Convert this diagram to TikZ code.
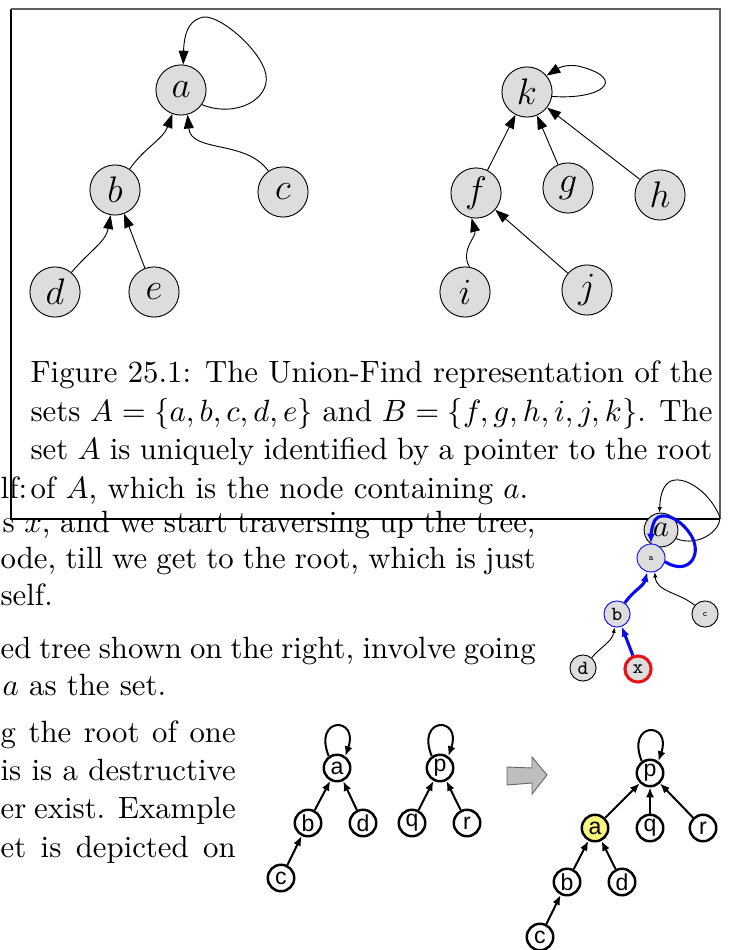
\documentclass[tikz,border=0pt]{standalone}
\usepackage{amsmath}
\usepackage{fontspec}
\usepackage{tikz}
\usetikzlibrary{arrows.meta, positioning}
\newfontfamily\helv{Liberation Sans}
\definecolor{nodegray}{RGB}{221,221,221}
\definecolor{hlyellow}{RGB}{250,245,125}
\definecolor{pathblue}{RGB}{10,10,240}
\definecolor{xred}{RGB}{230,20,20}
\definecolor{framegray}{RGB}{95,95,95}
\definecolor{shiftgray}{RGB}{190,190,190}

\begin{document}
\begin{tikzpicture}[
    x=0.325pt, y=-0.325pt,
    vtx/.style={circle, draw, fill=nodegray, line width=0.3pt, minimum size=16.3pt,
                inner sep=0pt, font=\fontsize{13}{15}\selectfont},
    ptr/.style={-{Triangle[length=4.5pt,width=3.2pt]}, line width=0.3pt},
    mini/.style={circle, draw, fill=nodegray, line width=0.3pt, minimum size=8.5pt,
                 inner sep=0pt, font=\ttfamily\fontsize{6.5}{7}\selectfont},
    miniptr/.style={-{Latex[length=1.8pt,width=1.4pt]}, line width=0.3pt},
    bluptr/.style={-{Latex[length=3.2pt,width=2.6pt]}, line width=1pt, pathblue},
    uf/.style={circle, draw, thick, fill=white, minimum size=8.6pt, inner sep=0pt,
               font=\helv\fontsize{7.5}{8}\selectfont},
    ufptr/.style={-{Latex[length=3.2pt,width=2.6pt]}, line width=0.65pt},
    txt/.style={anchor=base west, inner sep=0pt}
  ]
    \useasboundingbox (0,0) rectangle (729,950);

    % figure box
    \draw[line width=0.35pt] (11,9) -- (11,519) -- (720,519);
    \draw[framegray, line width=0.6pt] (11,9) -- (720,9) -- (720,519);

    % set A
    \node[vtx] (a) at (181,90)  {$a$};
    \node[vtx] (b) at (115,190) {$b$};
    \node[vtx] (c) at (283,192) {$c$};
    \node[vtx] (d) at (55,292)  {$d$};
    \node[vtx] (e) at (154,292) {$e$};

    \draw[ptr] (b) to[out=55, in=-110] (a);
    \draw[ptr] (c) to[out=125, in=-85] (a.-75);
    \draw[ptr] (d) to[out=50, in=-100] (b);
    \draw[ptr] (e) -- (b);
    \draw[ptr] (a.-35) .. controls (235,118) and (270,100) .. (266,75)
                .. controls (262,50) and (215,10) .. (200,18)
                .. controls (188,22) and (184,35) .. (a.85);

    % set B
    \node[vtx] (k) at (527,92)  {$k$};
    \node[vtx] (f) at (476,193) {$f$};
    \node[vtx] (g) at (568,188) {$g$};
    \node[vtx] (h) at (660,195) {$h$};
    \node[vtx] (i) at (465,292) {$i$};
    \node[vtx] (j) at (587,290) {$j$};

    \draw[ptr] (f) -- (k);
    \draw[ptr] (g) -- (k);
    \draw[ptr] (h) -- (k);
    \draw[ptr] (i.80) to[out=120, in=-75] (f.-100);
    \draw[ptr] (j) -- (f);
    \draw[ptr] (k.-10) .. controls (600,100) and (628,80) .. (582,67)
                .. controls (572,64) and (562,66) .. (k.40);

    % caption
    \node[txt] (cap1) at (30,383) {\makebox[221.6pt][s]{Figure 25.1: The Union-Find representation of the}};
    \node[txt] (cap2) at (30,422) {\makebox[221.6pt][s]{sets $A=\{a,b,c,d,e\}$ and $B=\{f,g,h,i,j,k\}$. The}};
    \node[txt] (cap3) at (30,460) {\makebox[221.6pt][s]{set $A$ is uniquely identified by a pointer to the root}};
    \node[txt] (cap4) at (30,498) {of $A$, which is the node containing $a$.};

    % running text
    \node[txt] (t0) at (0,498) {lf:};
    \node[txt] (t1) at (2,532) {\makebox[173.2pt][s]{s $x$, and we start traversing up the tree,}};
    \node[txt] (t2) at (0,568) {\makebox[173.9pt][s]{ode, till we get to the root, which is just}};
    \node[txt] (t3) at (0,605) {self.};
    \node[txt] (t4) at (0,658) {\makebox[173.9pt][s]{ed tree shown on the right, involve going}};
    \node[txt] (t5) at (2,695) {$a$ as the set.};
    \node[txt] (t6) at (0,742) {\makebox[76.4pt][s]{g the root of one}};
    \node[txt] (t7) at (0,780) {\makebox[76.4pt][s]{is is a destructive}};
    \node[txt] (t8) at (0,818) {\makebox[76.4pt][s]{er exist. Example}};
    \node[txt] (t9) at (0,857) {\makebox[76.4pt][s]{et is depicted on}};

    % find(x)
    \node[mini, minimum size=11pt, font=\fontsize{10}{12}\selectfont] (fa) at (661,530) {$a$};
    \node[mini, draw=pathblue, minimum size=9.1pt, font=\ttfamily\fontsize{3}{3.5}\selectfont] (fa2) at (651,558) {a};
    \node[mini, draw=pathblue] (fb) at (617,614) {b};
    \node[mini, font=\ttfamily\fontsize{3}{3.5}\selectfont] (fc) at (705,614) {c};
    \node[mini] (fd) at (583,668) {d};
    \node[mini, draw=xred, line width=1pt] (fx) at (638,669) {x};

    \draw[miniptr] (fa.-30) .. controls (700,548) and (724,528) .. (719,515)
                .. controls (708,490) and (682,474) .. (669,482)
                .. controls (661,488) and (660,500) .. (fa.95);
    \draw[bluptr] (fa2.-15) .. controls (688,576) and (702,556) .. (692,537)
                .. controls (682,519) and (662,510) .. (655,520)
                .. controls (651,528) and (651,536) .. (fa2.north);
    \draw[bluptr] (fb) to[out=55, in=-105] (fa2);
    \draw[bluptr] (fx) -- (fb);
    \draw[miniptr] (fd) to[out=50, in=-100] (fb);
    \draw[miniptr] (fc) to[out=140, in=-85] (fa2.-75);

    % union: before
    \node[uf] (la) at (337,768) {a};
    \node[uf] (lb) at (308,823) {b};
    \node[uf] (ld) at (363,823) {d};
    \node[uf] (lc) at (281,878) {c};
    \node[uf] (lp) at (440,768) {p};
    \node[uf] (lq) at (412,823) {q};
    \node[uf] (lr) at (467,823) {r};

    \draw[ufptr] (la.125) .. controls +(-16,-40) and +(14,-40) .. (la.55);
    \draw[ufptr] (lp.125) .. controls +(-16,-40) and +(14,-40) .. (lp.55);
    \draw[ufptr] (lb) -- (la);
    \draw[ufptr] (ld) -- (la);
    \draw[ufptr] (lc) -- (lb);
    \draw[ufptr] (lq) -- (lp);
    \draw[ufptr] (lr) -- (lp);

    \draw[fill=shiftgray, draw=black!60, line width=0.3pt]
        (507,767) -- (532,768) -- (532,757) -- (547,775) -- (532,794) -- (532,783) -- (507,785) -- cycle;

    % union: after
    \node[uf] (rp) at (650,773) {p};
    \node[uf, fill=hlyellow] (ra) at (595,828) {a};
    \node[uf] (rq) at (650,828) {q};
    \node[uf] (rr) at (703,828) {r};
    \node[uf] (rb) at (567,882) {b};
    \node[uf] (rd) at (622,882) {d};
    \node[uf] (rc) at (540,937) {c};

    \draw[ufptr] (rp.125) .. controls +(-16,-40) and +(14,-40) .. (rp.55);
    \draw[ufptr] (ra) -- (rp);
    \draw[ufptr] (rq) -- (rp);
    \draw[ufptr] (rr) -- (rp);
    \draw[ufptr] (rb) -- (ra);
    \draw[ufptr] (rd) -- (ra);
    \draw[ufptr] (rc) -- (rb);
  \end{tikzpicture}
\end{document}
